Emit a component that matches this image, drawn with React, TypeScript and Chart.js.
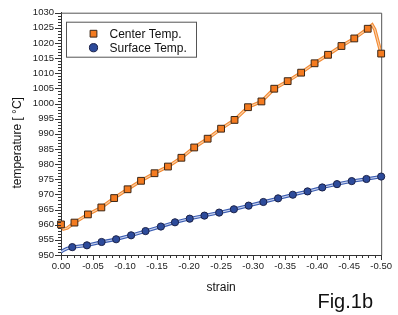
import React, { useEffect, useRef } from "react";
import { Chart, registerables } from "chart.js";

Chart.register(...registerables);

// ---- data ----
const centerStrain = [0, -0.021, -0.042, -0.063, -0.083, -0.104, -0.125, -0.146, -0.167, -0.188, -0.208, -0.229, -0.25, -0.271, -0.292, -0.313, -0.333, -0.354, -0.375, -0.396, -0.417, -0.438, -0.458, -0.479, -0.5];
const centerTemp = [960.1, 960.7, 963.4, 965.7, 968.8, 971.7, 974.5, 977.0, 979.2, 982.1, 985.5, 988.4, 991.7, 994.6, 998.8, 1000.7, 1004.9, 1007.4, 1010.2, 1013.3, 1016.1, 1019.0, 1021.5, 1024.7, 1016.5];

const centerLineStrain = [0, -0.004, -0.01, -0.021, -0.042, -0.063, -0.083, -0.104, -0.125, -0.146, -0.167, -0.188, -0.208, -0.229, -0.25, -0.271, -0.292, -0.313, -0.333, -0.354, -0.375, -0.396, -0.417, -0.438, -0.458, -0.479, -0.486, -0.49, -0.5];
const centerLineTemp = [960.0, 958.6, 958.9, 960.7, 963.4, 965.7, 968.8, 971.7, 974.5, 977.0, 979.2, 982.1, 985.5, 988.4, 991.7, 994.6, 998.8, 1000.7, 1004.9, 1007.4, 1010.2, 1013.3, 1016.1, 1019.0, 1021.5, 1024.7, 1026.0, 1024.5, 1016.5];

const surfaceStrain = [-0.0176, -0.0405, -0.0634, -0.0861, -0.1095, -0.132, -0.156, -0.178, -0.201, -0.224, -0.247, -0.27, -0.293, -0.316, -0.339, -0.362, -0.385, -0.408, -0.431, -0.454, -0.477, -0.5];
const surfaceTemp = [952.6, 953.2, 954.3, 955.2, 956.5, 957.9, 959.4, 960.8, 962.0, 963.0, 964.0, 965.1, 966.3, 967.5, 968.7, 969.9, 971.0, 972.3, 973.4, 974.4, 975.1, 975.9];

const surfaceLineStrain = [0, -0.004, -0.009, -0.0176, -0.0405, -0.0634, -0.0861, -0.1095, -0.132, -0.156, -0.178, -0.201, -0.224, -0.247, -0.27, -0.293, -0.316, -0.339, -0.362, -0.385, -0.408, -0.431, -0.454, -0.477, -0.5];
const surfaceLineTemp = [951.0, 951.6, 952.1, 952.6, 953.2, 954.3, 955.2, 956.5, 957.9, 959.4, 960.8, 962.0, 963.0, 964.0, 965.1, 966.3, 967.5, 968.7, 969.9, 971.0, 972.3, 973.4, 974.4, 975.1, 975.9];

const seriesLabels = ["Center Temp.", "Surface Temp."];
const xTitle = "strain";
const yTitle = "temperature [ °C]";
const figLabel = "Fig.1b";

const xMin = -0.5;
const xMax = 0;
const xMajorStep = 0.05;
const xMinorStep = 0.01;
const yMin = 950;
const yMax = 1030;
const yMajorStep = 5;
const yMinorStep = 1;

const FONT = "'Liberation Sans', Arial, Helvetica, sans-serif";

const toPoints = (xs: number[], ys: number[]) => xs.map((x, i) => ({ x, y: ys[i] }));

const decorPlugin = {
  id: "decor",
  beforeDatasetsDraw(chart: any) {
    const { ctx, chartArea } = chart;
    const { left, right, top, bottom } = chartArea;
    ctx.save();
    ctx.strokeStyle = "#555";
    ctx.lineWidth = 1;
    ctx.beginPath();
    ctx.moveTo(left, top + 0.5);
    ctx.lineTo(right + 0.5, top + 0.5);
    ctx.lineTo(right + 0.5, bottom);
    ctx.stroke();
    ctx.restore();
  },
  afterDraw(chart: any) {
    const { ctx, chartArea, scales } = chart;
    const { left, top, bottom } = chartArea;
    const xs = scales.x;
    const ys = scales.y;
    ctx.save();
    ctx.strokeStyle = "#333";
    ctx.lineWidth = 1;
    // y ticks (outward, left)
    const nY = Math.round((yMax - yMin) / yMinorStep);
    ctx.beginPath();
    for (let i = 0; i <= nY; i++) {
      const v = yMin + i * yMinorStep;
      const py = Math.round(ys.getPixelForValue(v)) + 0.5;
      const major = i % Math.round(yMajorStep / yMinorStep) === 0;
      const len = major ? 6 : 3;
      ctx.moveTo(left - len, py);
      ctx.lineTo(left, py);
    }
    // x ticks (outward, down)
    const nX = Math.round((xMax - xMin) / xMinorStep);
    for (let i = 0; i <= nX; i++) {
      const v = xMin + i * xMinorStep;
      const px = Math.round(xs.getPixelForValue(v)) + 0.5;
      const major = i % Math.round(xMajorStep / xMinorStep) === 0;
      const len = major ? 5 : 3;
      ctx.moveTo(px, bottom);
      ctx.lineTo(px, bottom + len);
    }
    ctx.stroke();

    // legend box inside chart area
    const bx = left + 5.5;
    const by = top + 9.5;
    const bw = 130;
    const bh = 35;
    ctx.fillStyle = "#fff";
    ctx.fillRect(bx, by, bw, bh);
    ctx.strokeStyle = "#555";
    ctx.strokeRect(bx, by, bw, bh);
    const legendSets = chart.data.datasets.filter((d: any) => seriesLabels.includes(d.label));
    legendSets.forEach((d: any, i: number) => {
      const cy = by + 11.5 + i * 14;
      const cx = bx + 27;
      ctx.fillStyle = d.pointBackgroundColor;
      ctx.strokeStyle = d.pointBorderColor;
      ctx.lineWidth = 1;
      ctx.beginPath();
      if (d.pointStyle === "rect") {
        const s = d.pointRadius * Math.SQRT1_2;
        ctx.rect(cx - s, cy - s, 2 * s, 2 * s);
      } else {
        ctx.arc(cx, cy, d.pointRadius + 0.5, 0, Math.PI * 2);
      }
      ctx.fill();
      ctx.stroke();
      ctx.fillStyle = "#111";
      ctx.font = `12px ${FONT}`;
      ctx.textAlign = "left";
      ctx.textBaseline = "middle";
      ctx.fillText(d.label, bx + 43, cy + 0.5);
    });

    // y axis title
    ctx.save();
    ctx.translate(20.5, (top + bottom) / 2 + 9);
    ctx.rotate(-Math.PI / 2);
    ctx.fillStyle = "#111";
    ctx.font = `12px ${FONT}`;
    ctx.textAlign = "center";
    ctx.textBaseline = "alphabetic";
    ctx.fillText(yTitle, 0, 0);
    ctx.restore();

    // figure label
    ctx.fillStyle = "#111";
    ctx.font = `20px ${FONT}`;
    ctx.textAlign = "right";
    ctx.textBaseline = "alphabetic";
    ctx.fillText(figLabel, chart.width - 25, chart.height - 7);
    ctx.restore();
  },
};

export default function App() {
  const ref = useRef<HTMLCanvasElement | null>(null);
  useEffect(() => {
    if (!ref.current) return;
    const orange = "#f47b20";
    const orangeLine = "#f28a34";
    const orangeInner = "#fcd0a6";
    const blue = "#2d4b9b";
    const blueLine = "#3b5db2";
    const blueInner = "#c9d3ef";
    const chart = new Chart(ref.current, {
      type: "line",
      data: {
        datasets: [
          {
            label: seriesLabels[0],
            data: toPoints(centerStrain, centerTemp),
            showLine: false,
            pointStyle: "rect",
            pointRadius: 4.8,
            pointBackgroundColor: orange,
            pointBorderColor: "#3a2616",
            pointBorderWidth: 1,
            clip: false,
            order: 0,
          } as any,
          {
            label: seriesLabels[1],
            data: toPoints(surfaceStrain, surfaceTemp),
            showLine: false,
            pointStyle: "circle",
            pointRadius: 3.6,
            pointBackgroundColor: blue,
            pointBorderColor: "#1a2148",
            pointBorderWidth: 1,
            clip: false,
            order: 0,
          } as any,
          {
            label: "_centerOuter",
            data: toPoints(centerLineStrain, centerLineTemp),
            borderColor: orangeLine,
            borderWidth: 3.4,
            pointRadius: 0,
            tension: 0,
            order: 3,
          },
          {
            label: "_centerInner",
            data: toPoints(centerLineStrain, centerLineTemp),
            borderColor: orangeInner,
            borderWidth: 1.2,
            pointRadius: 0,
            tension: 0,
            order: 2,
          },
          {
            label: "_surfaceOuter",
            data: toPoints(surfaceLineStrain, surfaceLineTemp),
            borderColor: blueLine,
            borderWidth: 3.4,
            pointRadius: 0,
            tension: 0,
            order: 3,
          },
          {
            label: "_surfaceInner",
            data: toPoints(surfaceLineStrain, surfaceLineTemp),
            borderColor: blueInner,
            borderWidth: 1.2,
            pointRadius: 0,
            tension: 0,
            order: 2,
          },
        ],
      },
      options: {
        responsive: false,
        animation: false,
        devicePixelRatio: 1,
        layout: { padding: { left: 0, right: 16, top: 11, bottom: 0 } },
        plugins: {
          legend: { display: false },
          tooltip: { enabled: false },
          title: { display: false },
        },
        scales: {
          x: {
            type: "linear",
            min: xMin,
            max: xMax,
            reverse: true,
            grid: { display: false, drawTicks: false },
            border: { display: true, color: "#333", width: 1 },
            ticks: {
              stepSize: xMajorStep,
              autoSkip: false,
              maxRotation: 0,
              padding: 6,
              color: "#222",
              font: { family: FONT, size: 9.5 },
              callback: (v: any) => Number(v).toFixed(2).replace("-0.00", "0.00"),
            },
            title: {
              display: true,
              text: xTitle,
              color: "#111",
              font: { family: FONT, size: 12 },
              padding: { top: 0, bottom: 20 },
            },
            afterFit: (s: any) => {
              s.height = 60;
            },
          },
          y: {
            type: "linear",
            min: yMin,
            max: yMax,
            grid: { display: false, drawTicks: false },
            border: { display: true, color: "#333", width: 1 },
            ticks: {
              stepSize: yMajorStep,
              autoSkip: false,
              padding: 7,
              color: "#222",
              font: { family: FONT, size: 9.5 },
              callback: (v: any) => String(Math.round(Number(v))),
            },
            afterFit: (s: any) => {
              s.width = 61;
            },
          },
        },
      },
      plugins: [decorPlugin],
    });
    return () => chart.destroy();
  }, []);
  return (
    <div style={{ position: "fixed", left: 0, top: 0, width: 398, height: 315, background: "#fff" }}>
      <canvas ref={ref} width={398} height={315} style={{ width: 398, height: 315 }} />
    </div>
  );
}
